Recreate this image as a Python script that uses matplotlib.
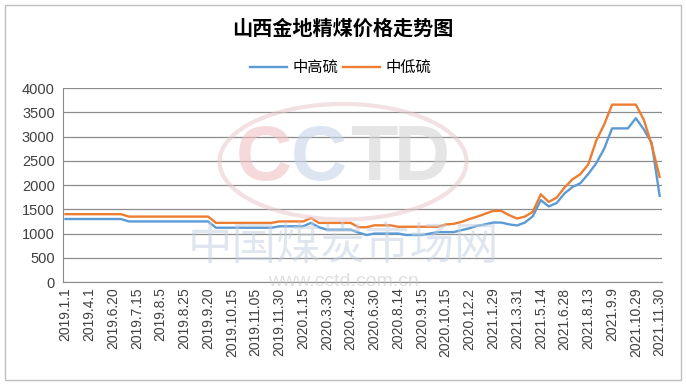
# Shanxi Jindi coking coal price trend
import matplotlib
matplotlib.use('Agg')
import matplotlib.pyplot as plt
from matplotlib.patches import Rectangle, Ellipse

plt.rcParams['font.family'] = ['Liberation Sans', 'Noto Sans CJK SC']

# category labels shown on the x axis (every 3rd data point)
date_labels = ['2019.1.1', '2019.4.1', '2019.6.20', '2019.7.15', '2019.8.5', '2019.8.25',
               '2019.9.20', '2019.10.15', '2019.11.05', '2019.11.30', '2020.1.15', '2020.3.30',
               '2020.4.28', '2020.6.30', '2020.8.14', '2020.9.15', '2020.10.15', '2020.12.2',
               '2021.1.29', '2021.3.31', '2021.5.14', '2021.6.28', '2021.8.13', '2021.9.9',
               '2021.10.29', '2021.11.30']
label_step = 3

# 中高硫 (medium-high sulfur), yuan/t
high_sulfur = ([1300] * 8 + [1250] * 11 + [1120] * 8 + [1150] * 4 + [1220, 1130]
               + [1080] * 4 + [1020, 970] + [1000] * 4 + [970] * 3
               + [1000, 1030, 1030, 1030]
               + [1070, 1110, 1160, 1190, 1227, 1227, 1190, 1167, 1227, 1360, 1690, 1560,
                  1630, 1830, 1960, 2040, 2230, 2450, 2750, 3170, 3170, 3170, 3380, 3150,
                  2870, 1780])

# 中低硫 (medium-low sulfur), yuan/t
low_sulfur = ([1400] * 8 + [1350] * 11 + [1220] * 8 + [1250] * 4 + [1320] + [1220] * 5
              + [1130, 1130] + [1170] * 3 + [1140] * 6
              + [1187, 1200, 1240, 1300, 1350, 1410, 1467, 1467, 1380, 1310, 1350, 1450,
                 1810, 1653, 1740, 1950, 2120, 2225, 2430, 2917, 3250, 3660, 3660, 3660,
                 3660, 3350, 2830, 2170])

x = list(range(len(high_sulfur)))
tick_pos = [i * label_step for i in range(len(date_labels))]

fig = plt.figure(figsize=(6.86, 3.85), dpi=100)
fig.patches.append(Rectangle((0.008, 0.012), 0.984, 0.975, transform=fig.transFigure,
                             fill=False, edgecolor='#bfbfbf', linewidth=1))
ax = fig.add_axes([0.092, 0.2675, 0.873, 0.5035])

# faint CCTD watermark
fig.patches.append(Ellipse((0.50, 0.58), 0.36, 0.30, transform=fig.transFigure,
                           fill=False, edgecolor='#e8c8cc', linewidth=3, alpha=0.55))
wm_letters = [('C', 0.385, '#f0c0c4'), ('C', 0.465, '#c8d4ea'),
              ('T', 0.545, '#d4d4d4'), ('D', 0.615, '#d4d4d4')]
for letter, xpos, col in wm_letters:
    fig.text(xpos, 0.585, letter, fontsize=56, color=col, alpha=0.6,
             ha='center', va='center', fontweight='bold')
fig.text(0.50, 0.36, '中国煤炭市场网', fontsize=32, color='#c3cfe0', alpha=0.5,
         ha='center', va='center', family='Noto Sans CJK SC')
fig.text(0.50, 0.27, 'www.cctd.com.cn', fontsize=14, color='#c8c8c8', alpha=0.55,
         ha='center', va='center')

ax.plot(x, high_sulfur, color='#5B9BD5', linewidth=1.7, label='中高硫')
ax.plot(x, low_sulfur, color='#ED7D31', linewidth=1.7, label='中低硫')

ax.set_ylim(0, 4000)
ax.set_yticks(range(0, 4001, 500))
ax.set_xlim(-0.3, len(x) - 1 + 0.3)
ax.set_xticks(tick_pos)
ax.set_xticklabels(date_labels, rotation=90, fontsize=10, color='#404040')
ax.tick_params(axis='y', labelsize=10.5, colors='#404040', length=0, pad=6)
ax.tick_params(axis='x', length=0, pad=4)
ax.grid(axis='y', color='#8c8c8c', linewidth=0.9)
ax.set_axisbelow(True)
ax.patch.set_alpha(0)
for side in ['top', 'right']:
    ax.spines[side].set_visible(False)
for side in ['left', 'bottom']:
    ax.spines[side].set_color('#8c8c8c')

fig.suptitle('山西金地精煤价格走势图', x=0.50, y=0.955, fontsize=14.5, fontweight='bold',
             family='Noto Sans CJK SC')
fig.legend(loc='center', bbox_to_anchor=(0.497, 0.825), ncol=2, frameon=False,
           prop={'family': 'Noto Sans CJK SC', 'size': 11},
           handlelength=2.4, columnspacing=0.3, handletextpad=0.4)

plt.savefig('out.png', dpi=100)
